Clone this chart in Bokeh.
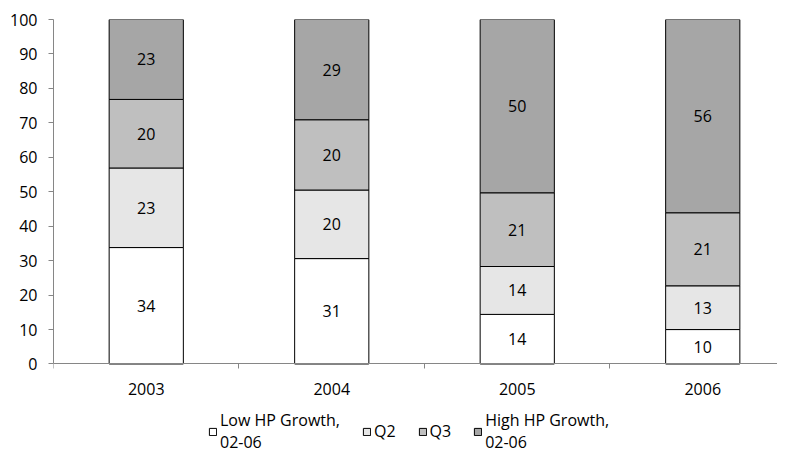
import numpy as np
from bokeh.plotting import figure
from bokeh.models import (ColumnDataSource, Range1d, FixedTicker, Legend,
                          LegendItem, LinearAxis)
from bokeh.core.properties import value
from bokeh.embed import file_html
from bokeh.resources import INLINE

# ---- data ----
years = ["2003", "2004", "2005", "2006"]
low = [33.8, 30.6, 14.4, 10.0]
q2 = [23.1, 19.9, 13.9, 12.7]
q3 = [19.9, 20.4, 21.4, 21.2]
high = [23.2, 29.1, 50.3, 56.1]
series_names = ["Low HP Growth,\n02-06", "Q2", "Q3", "High HP Growth,\n02-06"]
y_ticks = list(range(0, 101, 10))

# ---- style ----
colors = ["#ffffff", "#e6e6e6", "#bfbfbf", "#a6a6a6"]
FONT = "Open Sans"
FS = "16px"
AXIS_C = "#868686"

xpos = np.arange(len(years)) + 0.5
keys = ["low", "q2", "q3", "high"]
src = ColumnDataSource({"x": xpos, "low": low, "q2": q2, "q3": q3, "high": high})

p = figure(width=777, height=454, output_backend="svg", toolbar_location=None,
           x_range=Range1d(0, 3.903), y_range=Range1d(-26.27, 100),
           x_axis_location=None,
           min_border_left=53, min_border_right=0, min_border_top=19,
           min_border_bottom=0)
p.outline_line_color = None
p.grid.visible = False

rs = p.vbar_stack(keys, x="x", width=0.4, source=src, fill_color=colors,
                  line_color="black", line_width=1)

stack = np.array([low, q2, q3, high])
tops = np.cumsum(stack, axis=0)
mids = tops - stack / 2
lab_src = ColumnDataSource(dict(
    x=np.tile(xpos, len(keys)),
    y=mids.ravel(),
    t=[f"{v:.0f}" for v in stack.ravel()],
))
p.text("x", "y", text="t", source=lab_src, text_align="center",
       text_baseline="middle", text_font=value(FONT), text_font_size=FS,
       text_color="black")

# x axis drawn at y=0 inside the frame: labels at centers, ticks at boundaries
xa = LinearAxis(fixed_location=0)
xa.ticker = FixedTicker(ticks=list(xpos), minor_ticks=list(range(len(years))))
xa.major_label_overrides = {float(x): y for x, y in zip(xpos, years)}
xa.major_tick_out = 0
xa.major_tick_in = 0
xa.minor_tick_out = 5
xa.minor_tick_in = 0
xa.axis_line_color = AXIS_C
xa.minor_tick_line_color = AXIS_C
xa.major_label_text_font = FONT
xa.major_label_text_font_size = FS
xa.major_label_text_color = "black"
xa.major_label_standoff = 14
p.add_layout(xa, "below")

ya = p.yaxis[0]
ya.ticker = FixedTicker(ticks=y_ticks, minor_ticks=[])
ya.bounds = (0, 100)
ya.major_tick_out = 5
ya.major_tick_in = 0
ya.axis_line_color = AXIS_C
ya.major_tick_line_color = AXIS_C
ya.major_label_text_font = FONT
ya.major_label_text_font_size = FS
ya.major_label_text_color = "black"
ya.major_label_standoff = 11

items = [LegendItem(label=n, renderers=[r]) for n, r in zip(series_names, rs)]
legend = Legend(items=items, orientation="horizontal", location=(155, 1),
                glyph_width=9, glyph_height=9, label_standoff=3, spacing=22,
                padding=0, margin=0, border_line_color=None,
                background_fill_alpha=0, label_text_font=FONT,
                label_text_font_size=FS, label_text_color="black")
p.add_layout(legend)

open("out.html", "w").write(file_html(p, INLINE))
